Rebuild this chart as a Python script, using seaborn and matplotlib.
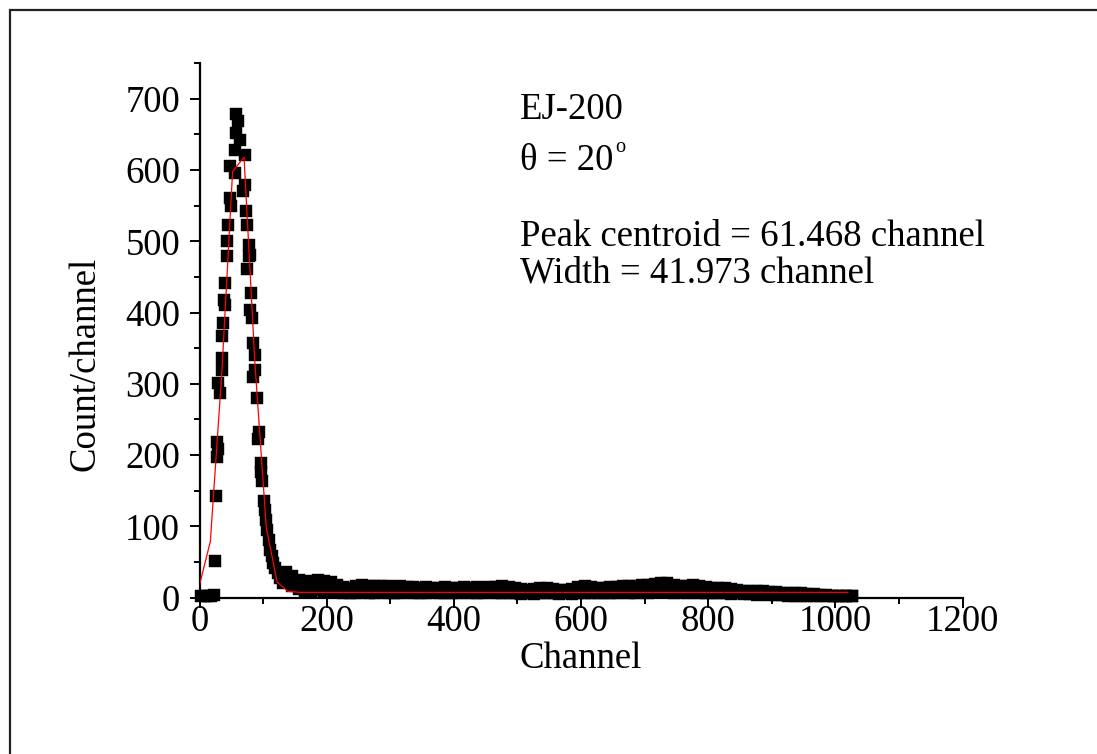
import numpy as np
import pandas as pd
import matplotlib
matplotlib.use("Agg")
import matplotlib.pyplot as plt
from matplotlib.patches import Rectangle
from matplotlib.transforms import offset_copy
import seaborn as sns

# ---------------- data ----------------
peak_ch = [3, 8, 13, 18, 23,
           24, 26, 27, 27, 29, 29, 32, 35, 36, 36, 37, 40, 39, 40, 43, 43, 44,
           48, 50, 48, 56, 56, 58, 58, 60, 63,
           71, 71, 69, 73, 75, 78, 79, 78, 74, 81, 80, 83, 84, 87, 87, 84, 90,
           94, 92, 97, 97, 99, 101, 103, 104, 106, 109, 111, 114, 116, 119,
           123, 126, 131]
peak_cnt = [2, 3, 3, 3, 4,
            51, 143, 198, 219, 208, 301, 287, 320, 336, 367, 385, 411, 418, 442,
            480, 500, 523, 561, 549, 605, 596, 628, 652, 679, 668, 642,
            621, 579, 570, 542, 523, 495, 481, 480, 461, 427, 404, 392, 357, 341,
            320, 310, 280, 233, 222, 189, 177, 163, 135, 123, 109, 95, 81, 67,
            58, 49, 42, 35, 28, 21]

tail_ch = [136, 146, 156, 166, 176, 186, 196, 206, 216, 226,
           236, 246, 256, 266, 276, 286, 296, 306, 316, 326,
           336, 346, 356, 366, 376, 386, 396, 406, 416, 426,
           436, 446, 456, 466, 476, 486, 496, 506, 516, 526,
           536, 546, 556, 566, 576, 586, 596, 606, 616, 626,
           636, 646, 656, 666, 676, 686, 696, 706, 716, 726,
           736, 746, 756, 766, 776, 786, 796, 806, 816, 826,
           836, 846, 856, 866, 876, 886, 896, 906, 916, 926,
           936, 946, 956, 966, 976, 986, 996, 1006, 1016, 1026]
tail_high = [36, 30, 25, 22, 23, 25, 24, 22, 18, 15,
             14, 16, 18, 17, 16, 17, 16, 15, 16, 15,
             15, 14, 15, 14, 14, 15, 14, 14, 15, 14,
             15, 14, 15, 15, 16, 15, 14, 12, 11, 12,
             13, 13, 12, 11, 11, 12, 15, 16, 15, 14,
             14, 15, 15, 16, 16, 17, 18, 18, 19, 21,
             20, 18, 17, 17, 18, 17, 15, 14, 13, 13,
             12, 11, 10, 10, 9, 9, 8, 8, 7, 7,
             6, 6, 5, 5, 4, 4, 3, 3, 3, 3]
tail_low = [22, 16, 12, 10, 10, 11, 10, 9, 8, 7,
            6, 7, 8, 6, 7, 8, 6, 7, 6, 8,
            7, 6, 7, 8, 6, 7, 6, 7, 8, 6,
            7, 6, 8, 7, 6, 7, 6, 5, 6, 5,
            6, 7, 6, 5, 6, 5, 7, 6, 7, 6,
            7, 6, 7, 8, 6, 7, 8, 7, 8, 9,
            8, 7, 8, 7, 8, 7, 6, 7, 6, 6,
            5, 6, 5, 5, 4, 5, 4, 4, 4, 3,
            3, 3, 3, 2, 2, 2, 2, 2, 2, 2]

fit_ch = [0, 17, 35, 52, 70, 87, 105, 122, 139, 157, 1020]
fit_cnt = [18, 79, 315, 598, 618, 330, 98, 22, 9, 7.5, 7.5]

x_ticks = [0, 200, 400, 600, 800, 1000, 1200]
y_ticks = [0, 100, 200, 300, 400, 500, 600, 700]
label_lines = ["EJ-200", "θ = 20",
               "Peak centroid = 61.468 channel", "Width = 41.973 channel"]
degree_mark = "o"

# ---------------- styling ----------------
sns.set_theme(style="ticks")
plt.rcParams["font.family"] = ["Liberation Serif", "DejaVu Serif"]

FS = 26.5

data = pd.DataFrame({
    "Channel": peak_ch + tail_ch + tail_ch,
    "Count": peak_cnt + tail_high + tail_low,
})
fit = pd.DataFrame({"Channel": fit_ch, "Count": fit_cnt})

fig = plt.figure(figsize=(10.97, 7.54), dpi=100)
fig.patch.set_facecolor("white")
ax = fig.add_axes([0.1819, 0.2073, 0.6955, 0.7091])

sns.scatterplot(data=data, x="Channel", y="Count", marker="s", s=85,
                color="black", edgecolor="black", linewidth=0.3, ax=ax,
                zorder=3, clip_on=False)
sns.lineplot(data=fit, x="Channel", y="Count", color="red", lw=0.9,
             estimator=None, sort=False, ax=ax, zorder=4)

ax.set_xlim(0, 1200)
ax.set_ylim(0, 750)
ax.set_xticks(x_ticks)
ax.set_yticks(y_ticks)
ax.set_xticks(np.array(x_ticks[:-1]) + 100, minor=True)
ax.set_yticks(np.array(y_ticks) + 50, minor=True)
ax.tick_params(axis="both", which="major", length=7, width=1.4,
               labelsize=FS, direction="out", color="black", labelcolor="black")
ax.tick_params(axis="both", which="minor", length=4.5, width=1.4,
               direction="out", color="black")
ax.tick_params(axis="x", pad=-2)
ax.tick_params(axis="y", pad=7)

for s in ["top", "right"]:
    ax.spines[s].set_visible(False)
for s in ["left", "bottom"]:
    ax.spines[s].set_linewidth(1.6)
    ax.spines[s].set_color("black")

ax.set_xlabel("Channel", fontsize=FS, color="black", labelpad=2)
ax.set_ylabel("Count/channel", fontsize=FS, color="black")
ax.yaxis.label.set_verticalalignment("center")
ax.yaxis.set_label_coords(-0.150, 0.437)

text_y = [672, 600, 494, 442]
texts = []
for t, yy in zip(label_lines, text_y):
    texts.append(ax.text(504, yy, t, fontsize=FS, color="black",
                         ha="left", va="baseline"))

# superscript degree mark after "θ = 20"
fig.canvas.draw()
bb = texts[1].get_window_extent(renderer=fig.canvas.get_renderer())
x_end = ax.transData.inverted().transform((bb.x1, bb.y0))[0]
ax.text(x_end, text_y[1], degree_mark, fontsize=FS * 0.55, color="black",
        ha="left", va="baseline",
        transform=offset_copy(ax.transData, fig=fig, x=1, y=13, units="points"))

# outer frame (extends beyond the right and bottom edges)
fig.patches.append(Rectangle((10 / 1097, -0.1), 1.2, 1 - 10 / 754 + 0.1,
                             transform=fig.transFigure, fill=False,
                             edgecolor="#222222", linewidth=1.6))

fig.savefig("out.png", dpi=100)
